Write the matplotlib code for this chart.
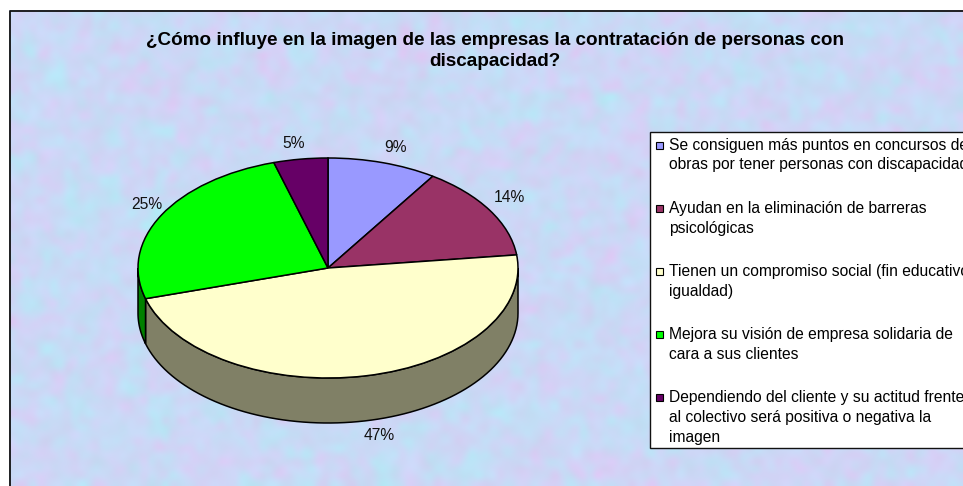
import matplotlib
matplotlib.use("Agg")
import matplotlib.pyplot as plt
from matplotlib.patches import Rectangle
import numpy as np

title = "¿Cómo influye en la imagen de las empresas la contratación de personas con\ndiscapacidad?"
labels = [
    "Se consiguen más puntos en concursos de\nobras por tener personas con discapacidad",
    "Ayudan en la eliminación de barreras\npsicológicas",
    "Tienen un compromiso social (fin educativo,\nigualdad)",
    "Mejora su visión de empresa solidaria de\ncara a sus clientes",
    "Dependiendo del cliente y su actitud frente\nal colectivo será positiva o negativa la\nimagen",
]
values = [9.3, 13.8, 47.4, 24.9, 4.6]
colors = ["#9999FF", "#993366", "#FFFFCC", "#00FF00", "#660066"]
side_colors = ["#4C4C80", "#4C1A33", "#808066", "#008000", "#330033"]

# where the percent labels sit, in pie units
pct_pos = [(0.353, 1.10), (0.953, 0.645), (0.268, -1.527), (-0.953, 0.573), (-0.179, 1.136)]

W, H = 963, 486
cx, cy, rx, ry = 328, 268, 190, 110
depth = 45 / ry

plt.rcParams['font.family'] = ['Liberation Sans', 'DejaVu Sans']
fig = plt.figure(figsize=(W / 100, H / 100), dpi=100, facecolor="white")

# pixel axes for the backdrop, the title and the legend box
bg = fig.add_axes([0, 0, 1, 1])
bg.set_xlim(0, W)
bg.set_ylim(H, 0)
bg.axis("off")

# mottled backdrop, only decoration
rng = np.random.default_rng(7)
base = np.array([203, 216, 246]) / 255
cell = 7
gh, gw = H // cell, W // cell
coarse = np.kron(rng.normal(size=(gh // 4 + 1, gw // 4 + 1)), np.ones((4, 4)))[:gh, :gw]
hue = 0.6 * coarse + rng.normal(size=(gh, gw))
tone = rng.normal(size=(gh, gw))
texture = np.zeros((gh, gw, 3))
texture[..., 0] = base[0] + 0.032 * hue
texture[..., 1] = base[1] - 0.024 * hue + 0.012 * tone
texture[..., 2] = base[2] + 0.012 * tone
bg.imshow(np.clip(texture, 0, 1), extent=(9, W, H, 11), interpolation="bicubic", aspect="auto", zorder=0)
bg.set_xlim(0, W)
bg.set_ylim(H, 0)
bg.plot([9.5, 9.5, W], [H, 11.5, 11.5], color="#111111", lw=1.3, zorder=1)

bg.text(495, 51, title, ha="center", va="center", fontsize=13.6, fontweight="bold", linespacing=1.38)

# legend box, it runs off the right edge like in the original
bg.add_patch(Rectangle((649.5, 131.5), 330, 316.5, fc="white", ec="#111111", lw=1, zorder=2))
for i, lab in enumerate(labels):
    y = 145 + i * 63.2
    bg.add_patch(Rectangle((656, y - 3.5), 7, 7, fc=colors[i], ec="black", lw=0.8, zorder=3))
    bg.text(669, y - 7.5, lab, ha="left", va="top", fontsize=11.25, linespacing=1.4, zorder=3)

# pie axes, one unit is rx pixels across and ry pixels down
ax = fig.add_axes([0, 0, 1, 1], facecolor="none")
wedges, _, pcts = ax.pie(values, colors=colors, startangle=90, counterclock=False,
                         autopct="%.0f%%", wedgeprops={"edgecolor": "black", "linewidth": 1.1})
for t, pos in zip(pcts, pct_pos):
    t.set_position(pos)
    t.set_fontsize(11.25)
    t.set_color("#111111")

# rim of the 3d pie, only the front half shows
edges = np.cumsum([0] + values) / sum(values) * 360
for i in range(len(values)):
    a0, a1 = max(edges[i], 90), min(edges[i + 1], 270)
    if a1 <= a0:
        continue
    th = np.radians(np.linspace(a0, a1, 80))
    xs = np.sin(th)
    ys = np.cos(th)
    ax.fill(np.r_[xs, xs[::-1]], np.r_[ys, ys[::-1] - depth], fc=side_colors[i],
            ec="black", lw=1.1, zorder=0.5)

ax.set_aspect("auto")
ax.set_xlim(-cx / rx, (W - cx) / rx)
ax.set_ylim((cy - H) / ry, cy / ry)

fig.savefig("out.png", dpi=100)
